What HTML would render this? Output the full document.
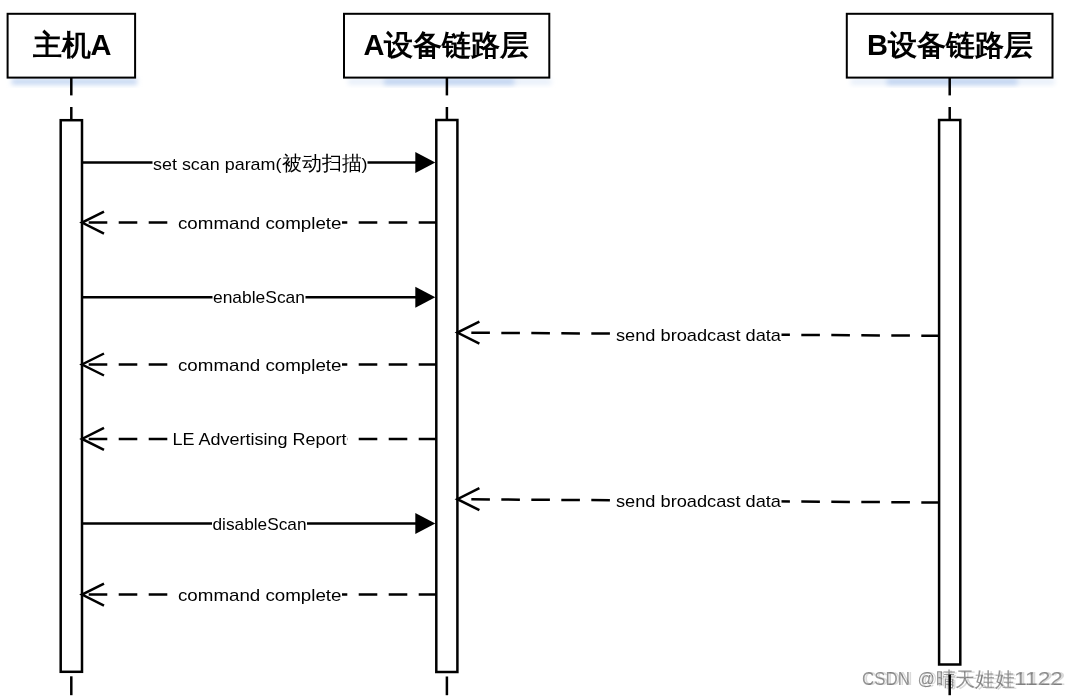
<!DOCTYPE html>
<html><head><meta charset="utf-8"><style>
html,body{margin:0;padding:0;background:#fff;width:1075px;height:697px;overflow:hidden;font-family:"Liberation Sans",sans-serif;}
svg{display:block;}
</style></head><body>
<svg width="1075" height="697" viewBox="0 0 1075 697">
<defs><filter id="sh" x="-20%" y="-50%" width="140%" height="200%"><feGaussianBlur stdDeviation="2.5"/></filter></defs>
<rect x="0" y="0" width="1075" height="697" fill="#fff"/>
<rect x="11.6" y="78.6" width="125.5" height="6" fill="#c3d6f2" filter="url(#sh)"/>
<rect x="7.6" y="13.8" width="127.5" height="63.8" fill="#fff" stroke="#000" stroke-width="2.0"/>
<text x="72.0" y="55.2" text-anchor="middle" font-family='"Liberation Sans", sans-serif' font-weight="bold" font-size="29">主机A</text>
<rect x="348.0" y="78.6" width="203.29999999999995" height="6" fill="#e6eef9" filter="url(#sh)"/>
<rect x="384.0" y="78.6" width="130.29999999999995" height="6" fill="#bfd3f1" filter="url(#sh)"/>
<rect x="344.0" y="13.8" width="205.29999999999995" height="63.8" fill="#fff" stroke="#000" stroke-width="2.0"/>
<text x="446.5" y="55.2" text-anchor="middle" font-family='"Liberation Sans", sans-serif' font-weight="bold" font-size="29">A设备链路层</text>
<rect x="850.8" y="78.6" width="203.70000000000005" height="6" fill="#e6eef9" filter="url(#sh)"/>
<rect x="886.8" y="78.6" width="130.70000000000005" height="6" fill="#bfd3f1" filter="url(#sh)"/>
<rect x="846.8" y="13.8" width="205.70000000000005" height="63.8" fill="#fff" stroke="#000" stroke-width="2.0"/>
<text x="950.0" y="55.2" text-anchor="middle" font-family='"Liberation Sans", sans-serif' font-weight="bold" font-size="29">B设备链路层</text>
<line x1="71.3" y1="78" x2="71.3" y2="95.4" stroke="#000" stroke-width="2.5"/>
<line x1="71.3" y1="107" x2="71.3" y2="120.2" stroke="#000" stroke-width="2.5"/>
<line x1="71.3" y1="676.3" x2="71.3" y2="695.2" stroke="#000" stroke-width="2.5"/>
<rect x="60.7" y="120.2" width="21.299999999999997" height="551.5999999999999" fill="#fff" stroke="#000" stroke-width="2.5"/>
<line x1="446.9" y1="78" x2="446.9" y2="95.4" stroke="#000" stroke-width="2.5"/>
<line x1="446.9" y1="107" x2="446.9" y2="120.0" stroke="#000" stroke-width="2.5"/>
<line x1="446.9" y1="676.5" x2="446.9" y2="695.2" stroke="#000" stroke-width="2.5"/>
<rect x="436.3" y="120.0" width="21.099999999999966" height="552.0" fill="#fff" stroke="#000" stroke-width="2.5"/>
<line x1="949.7" y1="78" x2="949.7" y2="95.4" stroke="#000" stroke-width="2.5"/>
<line x1="949.7" y1="107" x2="949.7" y2="120.0" stroke="#000" stroke-width="2.5"/>
<line x1="949.7" y1="674.5" x2="949.7" y2="695.2" stroke="#000" stroke-width="2.5"/>
<rect x="939.1" y="120.0" width="21.199999999999932" height="544.5" fill="#fff" stroke="#000" stroke-width="2.5"/>
<line x1="82.0" y1="162.6" x2="418.3" y2="162.6" stroke="#000" stroke-width="2.5"/>
<path d="M415.3,152.1 L435.3,162.6 L415.3,173.1 Z" fill="#000"/>
<rect x="152.5" y="154.6" width="215.0" height="18" fill="#fff"/>
<text x="153.0" y="169.6" font-family='"Liberation Sans", sans-serif' font-size="17" textLength="128.5" lengthAdjust="spacingAndGlyphs">set scan param(</text>
<text x="282.0" y="170.0" font-family='"Liberation Sans", sans-serif' font-size="19.5">被</text>
<text x="302.1" y="170.0" font-family='"Liberation Sans", sans-serif' font-size="19.5">动</text>
<text x="322.2" y="170.0" font-family='"Liberation Sans", sans-serif' font-size="19.5">扫</text>
<text x="342.3" y="170.0" font-family='"Liberation Sans", sans-serif' font-size="19.5">描</text>
<text x="361.5" y="169.6" font-family='"Liberation Sans", sans-serif' font-size="17" textLength="6.0" lengthAdjust="spacingAndGlyphs">)</text>
<line x1="436.3" y1="222.6" x2="82.0" y2="222.6" stroke="#000" stroke-width="2.5" stroke-dasharray="18.6 11.4" stroke-dashoffset="1.0"/>
<path d="M104.0,211.6 L82.0,222.6 L104.0,233.6" fill="none" stroke="#000" stroke-width="2.5"/>
<rect x="177.5" y="213.6" width="164.5" height="18" fill="#fff"/>
<text x="178.0" y="228.6" font-family='"Liberation Sans", sans-serif' font-size="17" textLength="163.5" lengthAdjust="spacingAndGlyphs">command complete</text>
<line x1="82.0" y1="297.2" x2="418.3" y2="297.2" stroke="#000" stroke-width="2.5"/>
<path d="M415.3,286.7 L435.3,297.2 L415.3,307.7 Z" fill="#000"/>
<rect x="212.5" y="288.2" width="93.0" height="18" fill="#fff"/>
<text x="213.0" y="303.2" font-family='"Liberation Sans", sans-serif' font-size="17" textLength="92.0" lengthAdjust="spacingAndGlyphs">enableScan</text>
<line x1="939.1" y1="335.8" x2="457.4" y2="332.6" stroke="#000" stroke-width="2.5" stroke-dasharray="18.6 11.4" stroke-dashoffset="0.8"/>
<path d="M479.4,321.6 L457.4,332.6 L479.4,343.6" fill="none" stroke="#000" stroke-width="2.5"/>
<rect x="615.5" y="325.7" width="166.0" height="18" fill="#fff"/>
<text x="616.0" y="340.7" font-family='"Liberation Sans", sans-serif' font-size="17" textLength="165.0" lengthAdjust="spacingAndGlyphs">send broadcast data</text>
<line x1="436.3" y1="364.5" x2="82.0" y2="364.5" stroke="#000" stroke-width="2.5" stroke-dasharray="18.6 11.4" stroke-dashoffset="1.0"/>
<path d="M104.0,353.5 L82.0,364.5 L104.0,375.5" fill="none" stroke="#000" stroke-width="2.5"/>
<rect x="177.5" y="355.6" width="164.5" height="18" fill="#fff"/>
<text x="178.0" y="370.6" font-family='"Liberation Sans", sans-serif' font-size="17" textLength="163.5" lengthAdjust="spacingAndGlyphs">command complete</text>
<line x1="436.3" y1="438.9" x2="82.0" y2="438.9" stroke="#000" stroke-width="2.5" stroke-dasharray="18.6 11.4" stroke-dashoffset="1.0"/>
<path d="M104.0,427.9 L82.0,438.9 L104.0,449.9" fill="none" stroke="#000" stroke-width="2.5"/>
<rect x="172.0" y="429.9" width="175.0" height="18" fill="#fff"/>
<text x="172.5" y="444.9" font-family='"Liberation Sans", sans-serif' font-size="17" textLength="174.0" lengthAdjust="spacingAndGlyphs">LE Advertising Report</text>
<line x1="939.1" y1="502.5" x2="457.4" y2="499.2" stroke="#000" stroke-width="2.5" stroke-dasharray="18.6 11.4" stroke-dashoffset="0.8"/>
<path d="M479.4,488.2 L457.4,499.2 L479.4,510.2" fill="none" stroke="#000" stroke-width="2.5"/>
<rect x="615.5" y="491.5" width="166.0" height="18" fill="#fff"/>
<text x="616.0" y="506.5" font-family='"Liberation Sans", sans-serif' font-size="17" textLength="165.0" lengthAdjust="spacingAndGlyphs">send broadcast data</text>
<line x1="82.0" y1="523.6" x2="418.3" y2="523.6" stroke="#000" stroke-width="2.5"/>
<path d="M415.3,513.1 L435.3,523.6 L415.3,534.1 Z" fill="#000"/>
<rect x="212.0" y="514.8" width="95.0" height="18" fill="#fff"/>
<text x="212.5" y="529.8" font-family='"Liberation Sans", sans-serif' font-size="17" textLength="94.0" lengthAdjust="spacingAndGlyphs">disableScan</text>
<line x1="436.3" y1="594.6" x2="82.0" y2="594.6" stroke="#000" stroke-width="2.5" stroke-dasharray="18.6 11.4" stroke-dashoffset="1.0"/>
<path d="M104.0,583.6 L82.0,594.6 L104.0,605.6" fill="none" stroke="#000" stroke-width="2.5"/>
<rect x="177.5" y="585.8" width="164.5" height="18" fill="#fff"/>
<text x="178.0" y="600.8" font-family='"Liberation Sans", sans-serif' font-size="17" textLength="163.5" lengthAdjust="spacingAndGlyphs">command complete</text>
<g fill="#dadada" font-family='"Liberation Sans", sans-serif' style="mix-blend-mode:multiply">
<text x="864.5" y="685.3" font-size="18" textLength="48" lengthAdjust="spacingAndGlyphs">CSDN</text>
<text x="920.0" y="685.3" font-size="18" textLength="17.5" lengthAdjust="spacingAndGlyphs">@</text>
<text x="938.0" y="686.5" font-size="20">晴</text>
<text x="957.8" y="686.5" font-size="20">天</text>
<text x="977.6" y="686.5" font-size="20">娃</text>
<text x="997.4" y="686.5" font-size="20">娃</text>
<text x="1016.5" y="685.3" font-size="18" textLength="49" lengthAdjust="spacingAndGlyphs">1122</text>
</g>
<g fill="#959595" font-family='"Liberation Sans", sans-serif' style="mix-blend-mode:multiply">
<text x="862" y="684.8" font-size="18" textLength="48" lengthAdjust="spacingAndGlyphs">CSDN</text>
<text x="917.5" y="684.8" font-size="18" textLength="17.5" lengthAdjust="spacingAndGlyphs">@</text>
<text x="935.5" y="686" font-size="20">晴</text>
<text x="955.3" y="686" font-size="20">天</text>
<text x="975.1" y="686" font-size="20">娃</text>
<text x="994.9" y="686" font-size="20">娃</text>
<text x="1014" y="684.8" font-size="18" textLength="49" lengthAdjust="spacingAndGlyphs">1122</text>
</g>
</svg>
</body></html>
